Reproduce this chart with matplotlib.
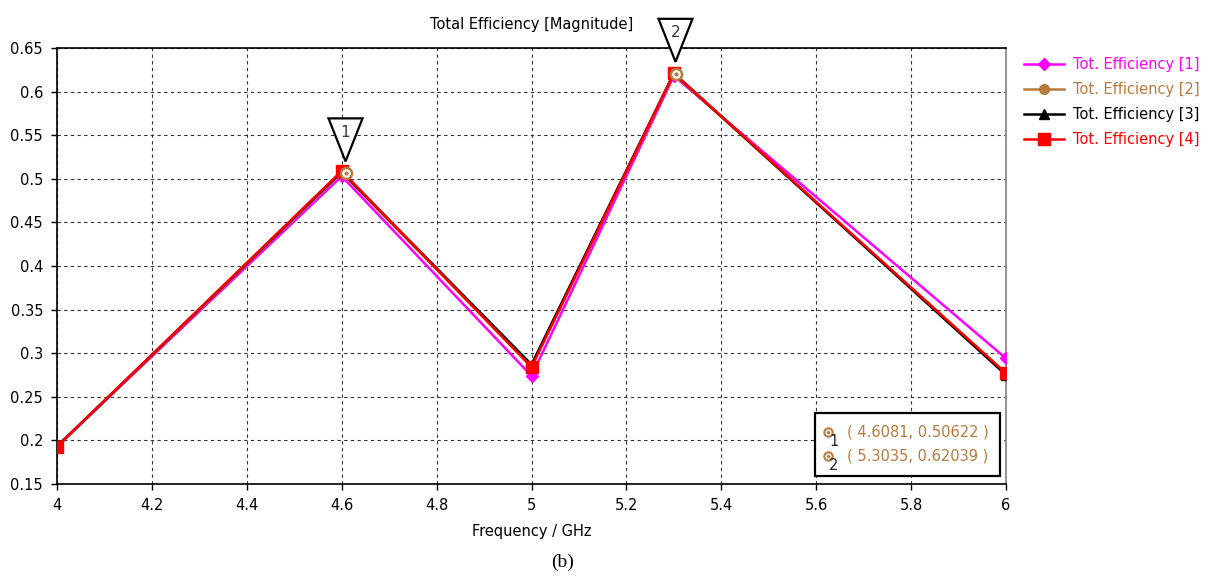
import matplotlib
matplotlib.use("Agg")
import matplotlib.pyplot as plt
from matplotlib.patches import Polygon, Rectangle
from matplotlib.transforms import IdentityTransform

freq = [4.0, 4.6, 5.0, 5.3, 6.0]
eff1 = [0.193, 0.503, 0.274, 0.618, 0.294]
eff2 = [0.193, 0.507, 0.285, 0.620, 0.277]
eff3 = [0.193, 0.508, 0.287, 0.621, 0.275]
eff4 = [0.193, 0.509, 0.284, 0.621, 0.277]
labels = ["Tot. Efficiency [1]", "Tot. Efficiency [2]", "Tot. Efficiency [3]", "Tot. Efficiency [4]"]
colors = ["#ff00ff", "#b87a3d", "#000000", "#ff0000"]
markers = ["D", "o", "^", "s"]
marker_pts_x = [4.6081, 5.3035]
marker_pts_y = [0.50622, 0.62039]
marker_ids = ["1", "2"]
xticks = [4.0, 4.2, 4.4, 4.6, 4.8, 5.0, 5.2, 5.4, 5.6, 5.8, 6.0]
xticklabels = ["4", "4.2", "4.4", "4.6", "4.8", "5", "5.2", "5.4", "5.6", "5.8", "6"]
yticks = [0.15, 0.2, 0.25, 0.3, 0.35, 0.4, 0.45, 0.5, 0.55, 0.6, 0.65]
yticklabels = ["0.15", "0.2", "0.25", "0.3", "0.35", "0.4", "0.45", "0.5", "0.55", "0.6", "0.65"]

W, H = 1206, 578
fig = plt.figure(figsize=(W / 100, H / 100), dpi=100)
L, R, T, B = 57, 1006, 48, 484
ax = fig.add_axes([L / W, (H - B) / H, (R - L) / W, (B - T) / H])

series = [eff1, eff2, eff3, eff4]
msizes = [6.5, 7, 7.5, 8]
handles = []
for ys, c, m, lab, ms in zip(series, colors, markers, labels, msizes):
    h, = ax.plot(freq, ys, color=c, lw=1.8, marker=m, ms=ms, mfc=c, mec=c, label=lab, zorder=3)
    handles.append(h)

ax.set_xlim(4, 6)
ax.set_ylim(0.15, 0.65)
ax.set_xticks(xticks)
ax.set_xticklabels(xticklabels)
ax.set_yticks(yticks)
ax.set_yticklabels(yticklabels)
ax.tick_params(direction="out", length=4, width=1, labelsize=10.5, colors="black", pad=6)
ax.grid(True, color="#333333", linestyle=(0, (3, 3)), linewidth=0.8)
for s in ["left", "bottom", "top"]:
    ax.spines[s].set_color("black")
    ax.spines[s].set_linewidth(1.2)
ax.spines["right"].set_color("#808080")
ax.spines["right"].set_linewidth(1.2)

ax.set_title("Total Efficiency [Magnitude]", fontsize=10.5, pad=14)
ax.set_xlabel("Frequency / GHz", fontsize=10.5, labelpad=8)

leg = fig.legend(handles=handles, loc="upper left", bbox_to_anchor=(1024 / W, 1 - 57 / H),
                 frameon=False, fontsize=10.5, handlelength=2.75, handletextpad=0.6,
                 labelspacing=0.68, borderpad=0, borderaxespad=0)
for t, c in zip(leg.get_texts(), colors):
    t.set_color(c)

# marker points
ax.plot(marker_pts_x, marker_pts_y, linestyle="none", marker="o", ms=8, mfc="white",
        mec="#b87a3d", mew=1.8, zorder=5)
ax.plot(marker_pts_x, marker_pts_y, linestyle="none", marker="o", ms=2, mfc="#b87a3d",
        mec="#b87a3d", zorder=6)

# inverted triangles
fig.canvas.draw()
for mx, my, mid in zip(marker_pts_x, marker_pts_y, marker_ids):
    px, py = ax.transData.transform((mx, my))
    tip = py + 12
    top = tip + 43
    verts = [(px - 17, top), (px + 17, top), (px, tip)]
    poly = Polygon(verts, closed=True, facecolor="white", edgecolor="black", lw=1.6,
                   transform=IdentityTransform(), clip_on=False, zorder=7)
    fig.add_artist(poly)
    fig.text(px / W, (top - 14) / H, mid, ha="center", va="center", fontsize=11,
             color="#333344", zorder=8)

# marker value box
ax.add_patch(Rectangle((0.799, 0.018), 0.1947, 0.145, transform=ax.transAxes, facecolor="white",
                       edgecolor="black", lw=1.6, zorder=8, clip_on=False))
for i, (mx, my, mid) in enumerate(zip(marker_pts_x, marker_pts_y, marker_ids)):
    yy = 0.119 - i * 0.055
    ax.plot([0.812], [yy], transform=ax.transAxes, marker="o", ms=6, mfc="white",
            mec="#b87a3d", mew=1.5, zorder=9, clip_on=False)
    ax.plot([0.812], [yy], transform=ax.transAxes, marker="o", ms=1.5, mfc="#b87a3d",
            mec="#b87a3d", zorder=10, clip_on=False)
    ax.text(0.8135, yy - 0.022, mid, transform=ax.transAxes, fontsize=10.5, color="#222233",
            ha="left", va="center", zorder=10)
    ax.text(0.832, yy, f"( {mx:.4f}, {my:.5f} )", transform=ax.transAxes, fontsize=10.5,
            color="#b87a3d", ha="left", va="center", zorder=10)

fig.text(563 / W, 1 - 562 / H, "(b)", ha="center", va="center", fontsize=14,
         family="Liberation Serif")

fig.savefig("out.png", dpi=100)
